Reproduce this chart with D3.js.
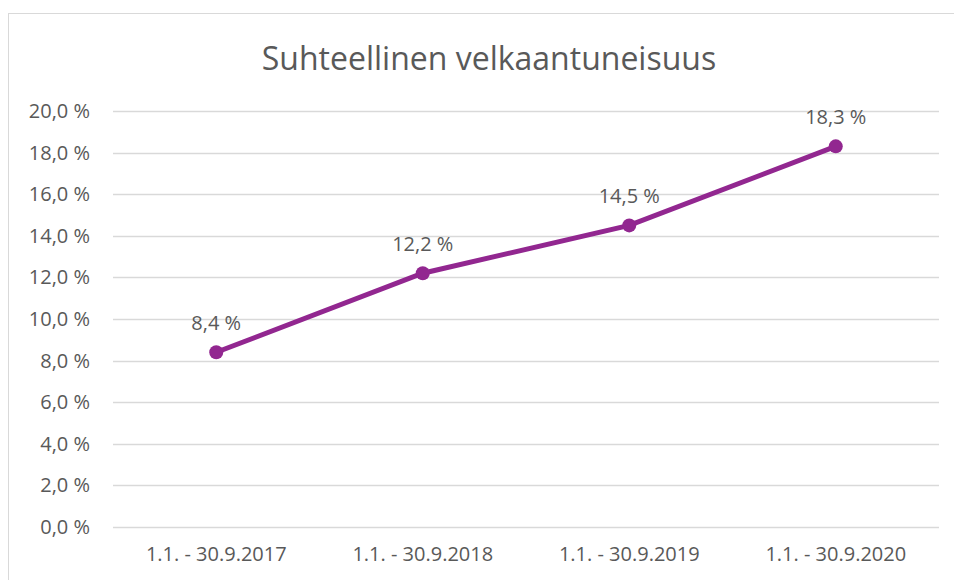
<html>
<head>
    <script src="https://cdnjs.cloudflare.com/ajax/libs/d3/7.8.5/d3.min.js"></script>
    <style>
        body { margin: 0; background: #fff; }
        text { font-family: "Open Sans", "Liberation Sans", sans-serif; fill: #595959; }
    </style>
</head>
<body>
    <script>
        var categories = ["1.1. - 30.9.2017", "1.1. - 30.9.2018", "1.1. - 30.9.2019", "1.1. - 30.9.2020"];
        var values = [8.4, 12.2, 14.5, 18.3];
        var yTicks = [0, 2, 4, 6, 8, 10, 12, 14, 16, 18, 20];
        var title = "Suhteellinen velkaantuneisuus";

        var w = 954, h = 580;
        var plotLeft = 113, plotRight = 939, plotTop = 111, plotBottom = 527;

        function pct(v) { return v.toFixed(1).replace(".", ",") + " %"; }

        var svg = d3.select("body").append("svg")
            .attr("width", w)
            .attr("height", h);

        // chart border
        svg.append("rect")
            .attr("x", 8.5).attr("y", 13.5)
            .attr("width", 960).attr("height", 600)
            .attr("fill", "none")
            .attr("stroke", "#d9d9d9")
            .attr("stroke-width", 1);

        var x = d3.scaleBand().domain(categories).range([plotLeft, plotRight]);
        var y = d3.scaleLinear().domain([0, 20]).range([plotBottom, plotTop]);

        svg.append("text")
            .attr("x", 489).attr("y", 70)
            .attr("text-anchor", "middle")
            .style("font-size", "32px")
            .text(title);

        // gridlines
        svg.selectAll("line.grid")
            .data(yTicks)
            .enter()
            .append("line")
            .attr("class", "grid")
            .attr("x1", plotLeft).attr("x2", plotRight)
            .attr("y1", function (d) { return Math.round(y(d)) + 0.5; })
            .attr("y2", function (d) { return Math.round(y(d)) + 0.5; })
            .style("stroke", "#d9d9d9")
            .style("stroke-width", 1.5);

        var yAxis = svg.append("g")
            .attr("transform", "translate(" + 90 + ",0)")
            .call(d3.axisLeft(y).tickValues(yTicks).tickFormat(pct).tickSize(0).tickPadding(0));
        yAxis.select(".domain").remove();
        yAxis.selectAll("text").style("font-size", "20px").attr("fill", "#595959");

        var xAxis = svg.append("g")
            .attr("transform", "translate(0," + plotBottom + ")")
            .call(d3.axisBottom(x).tickSize(0).tickPadding(20));
        xAxis.select(".domain").remove();
        xAxis.selectAll("text").style("font-size", "20px").attr("fill", "#595959");

        var line = d3.line()
            .x(function (d, i) { return x(categories[i]) + x.bandwidth() / 2; })
            .y(function (d) { return y(d); });

        svg.append("path")
            .datum(values)
            .attr("d", line)
            .attr("fill", "none")
            .attr("stroke", "#922790")
            .attr("stroke-width", 5)
            .attr("stroke-linecap", "round");

        svg.selectAll("circle")
            .data(values)
            .enter()
            .append("circle")
            .attr("cx", function (d, i) { return x(categories[i]) + x.bandwidth() / 2; })
            .attr("cy", function (d) { return y(d); })
            .attr("r", 7)
            .attr("fill", "#922790");

        svg.selectAll("text.lbl")
            .data(values)
            .enter()
            .append("text")
            .attr("class", "lbl")
            .attr("x", function (d, i) { return x(categories[i]) + x.bandwidth() / 2; })
            .attr("y", function (d) { return y(d) - 22; })
            .attr("text-anchor", "middle")
            .style("font-size", "20px")
            .text(pct);
    </script>
</body>
</html>
